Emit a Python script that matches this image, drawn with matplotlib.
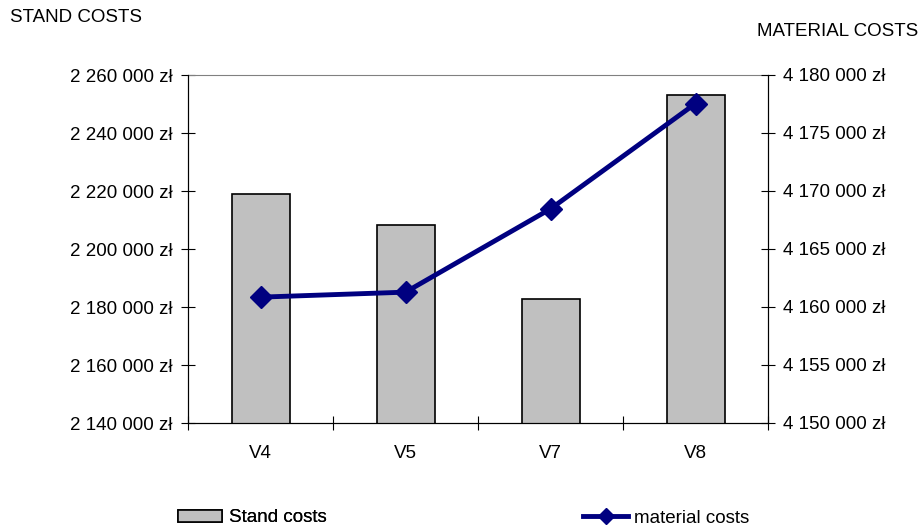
import numpy as np
import matplotlib.pyplot as plt
from matplotlib.ticker import FuncFormatter

plt.rcParams['font.family'] = ['Liberation Sans', 'DejaVu Sans']

variants = ['V4', 'V5', 'V7', 'V8']
stand_costs = [2219000, 2208400, 2182900, 2253100]
material_costs = [4160850, 4161280, 4168460, 4177540]

left_ticks = [2140000, 2160000, 2180000, 2200000, 2220000, 2240000, 2260000]
right_ticks = [4150000, 4155000, 4160000, 4165000, 4170000, 4175000, 4180000]

FS = 13.5


def zl(v, pos=None):
    return f"{v:,.0f}".replace(",", " ") + " zł"


fig = plt.figure(figsize=(9.23, 5.32), dpi=100)
ax = fig.add_axes([188 / 923, 109 / 532, 580 / 923, 348 / 532])
x = np.arange(len(variants))

bars = ax.bar(x, stand_costs, width=0.4, color='#C0C0C0', edgecolor='black',
              linewidth=1.2, label='Stand costs', zorder=2)
ax.set_ylim(left_ticks[0], left_ticks[-1])
ax.set_yticks(left_ticks)
ax.yaxis.set_major_formatter(FuncFormatter(zl))
ax.set_xlim(-0.5, len(variants) - 0.5)
ax.set_xticks(np.arange(len(variants) + 1) - 0.5)
ax.set_xticklabels([])
ax.set_xticks(x, minor=True)
ax.set_xticklabels(variants, minor=True)
ax.tick_params(axis='x', which='major', direction='inout', length=10, width=0.8)
ax.tick_params(axis='x', which='minor', length=0, pad=16, labelsize=FS)
ax.tick_params(axis='y', direction='inout', length=10, width=0.8, pad=6, labelsize=FS)
ax.spines['top'].set_color('#808080')

ax2 = ax.twinx()
line, = ax2.plot(x, material_costs, color='#000080', linewidth=3.5, marker='D',
                 markersize=11, label='material costs', zorder=3)
ax2.set_ylim(right_ticks[0], right_ticks[-1])
ax2.set_yticks(right_ticks)
ax2.yaxis.set_major_formatter(FuncFormatter(zl))
ax2.tick_params(axis='y', direction='inout', length=10, width=0.8, pad=6, labelsize=FS)
ax2.spines['top'].set_visible(False)

fig.text(10 / 923, 1 - 18 / 532, 'STAND COSTS', fontsize=FS, ha='left', va='center')
fig.text(918 / 923, 1 - 32 / 532, 'MATERIAL COSTS', fontsize=FS, ha='right', va='center')

leg1 = fig.legend(handles=[bars], loc='center left', bbox_to_anchor=(178 / 923, 1 - 518 / 532),
                  frameon=False, fontsize=FS, handlelength=2.35, handleheight=0.6,
                  handletextpad=0.35, borderpad=0, borderaxespad=0)
leg2 = fig.legend(handles=[line], loc='center left', bbox_to_anchor=(583 / 923, 1 - 518 / 532),
                  frameon=False, fontsize=FS, handlelength=2.4, handletextpad=0.3,
                  markerscale=0.7, borderpad=0, borderaxespad=0)
fig.add_artist(leg1)

fig.savefig('out.png', dpi=100)
